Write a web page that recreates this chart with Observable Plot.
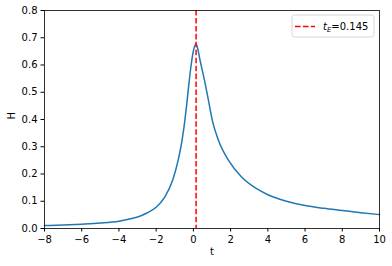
<!DOCTYPE html>
<html>
<head>
<meta charset="utf-8">
<script src="https://cdn.jsdelivr.net/npm/d3@7"></script>
<script src="https://cdn.jsdelivr.net/npm/@observablehq/plot@0.6"></script>
<style>
  html, body { margin: 0; padding: 0; background: #fff; }
  svg { font-family: "DejaVu Sans", sans-serif; }
</style>
</head>
<body>
<div id="chart"></div>
<script>
const tValues = [-8, -7, -6, -5, -4, -3.5, -3, -2.5, -2, -1.54, -1.12, -0.82, -0.61, -0.46, -0.36, -0.14, -0.02, 0.145, 0.26, 0.36, 0.6, 0.81, 1.02, 1.35, 1.89, 2.6, 3.4, 4, 5, 6, 7, 8, 9, 10];
const hValues = [0.011, 0.013, 0.016, 0.020, 0.027, 0.034, 0.042, 0.057, 0.078, 0.115, 0.176, 0.250, 0.323, 0.396, 0.455, 0.590, 0.645, 0.677, 0.652, 0.617, 0.543, 0.470, 0.396, 0.323, 0.250, 0.188, 0.146, 0.124, 0.100, 0.084, 0.074, 0.066, 0.058, 0.051];
const tE = 0.145;
const xTicks = [-8, -6, -4, -2, 0, 2, 4, 6, 8, 10];
const yTicks = [0, 0.1, 0.2, 0.3, 0.4, 0.5, 0.6, 0.7, 0.8];
const legendLabel = "=" + tE;

const data = tValues.map((t, i) => ({t, h: hValues[i]}));

const plot = Plot.plot({
  width: 392,
  height: 266,
  marginLeft: 44,
  marginRight: 13,
  marginTop: 10,
  marginBottom: 38,
  style: {fontFamily: "DejaVu Sans, sans-serif", fontSize: "10px", color: "#000", background: "#fff"},
  x: {domain: [-8, 10]},
  y: {domain: [0, 0.8]},
  marks: [
    Plot.line(data, {x: "t", y: "h", stroke: "#1f77b4", strokeWidth: 1.5, curve: "monotone-x"}),
    Plot.ruleX([tE], {stroke: "#ff0000", strokeWidth: 1.5, strokeDasharray: "5.55,2.4"}),
    Plot.frame({stroke: "#000", strokeWidth: 0.8}),
    Plot.axisX({ticks: xTicks, tickSize: 3.5, tickPadding: 3.5, label: null, tickFormat: d3.format("d"), fontSize: 10}),
    Plot.axisY({ticks: yTicks, tickSize: 3.5, tickPadding: 3.5, label: null, tickFormat: d3.format(".1f"), fontSize: 10}),
    Plot.text(["t"], {frameAnchor: "bottom", dy: 26, text: d => d, fontSize: 10, fill: "#000"}),
    Plot.text(["H"], {frameAnchor: "left", dx: -33, rotate: -90, text: d => d, fontSize: 10, fill: "#000"})
  ]
});

document.getElementById("chart").appendChild(plot);

// Legend (inside axes, upper right, matplotlib-style)
const svg = d3.select(plot);
const xr = plot.scale("x").range;
const yr = plot.scale("y").range;
const legRight = xr[1] - 5;
const legTop = Math.min(...yr) + 5;
const boxW = 82, boxH = 22;
const g = svg.append("g");
g.append("rect")
  .attr("x", legRight - boxW).attr("y", legTop)
  .attr("width", boxW).attr("height", boxH)
  .attr("rx", 2.5).attr("ry", 2.5)
  .attr("fill", "#fff").attr("fill-opacity", 0.8)
  .attr("stroke", "#cccccc").attr("stroke-width", 0.8);
g.append("line")
  .attr("x1", legRight - boxW + 3).attr("x2", legRight - boxW + 23)
  .attr("y1", legTop + boxH / 2 + 0.5).attr("y2", legTop + boxH / 2 + 0.5)
  .attr("stroke", "#ff0000").attr("stroke-width", 1.5)
  .attr("stroke-dasharray", "5.55,2.4");
const txt = g.append("text")
  .attr("x", legRight - boxW + 31).attr("y", legTop + boxH / 2 + 4)
  .attr("text-anchor", "start")
  .attr("font-size", 10).attr("fill", "#000")
  .attr("font-family", "DejaVu Sans, sans-serif");
txt.append("tspan").attr("font-style", "italic").text("t");
txt.append("tspan").attr("font-style", "italic").attr("font-size", 7).attr("dy", 1.5).text("E");
txt.append("tspan").attr("dy", -1.5).text(legendLabel);
</script>
</body>
</html>
